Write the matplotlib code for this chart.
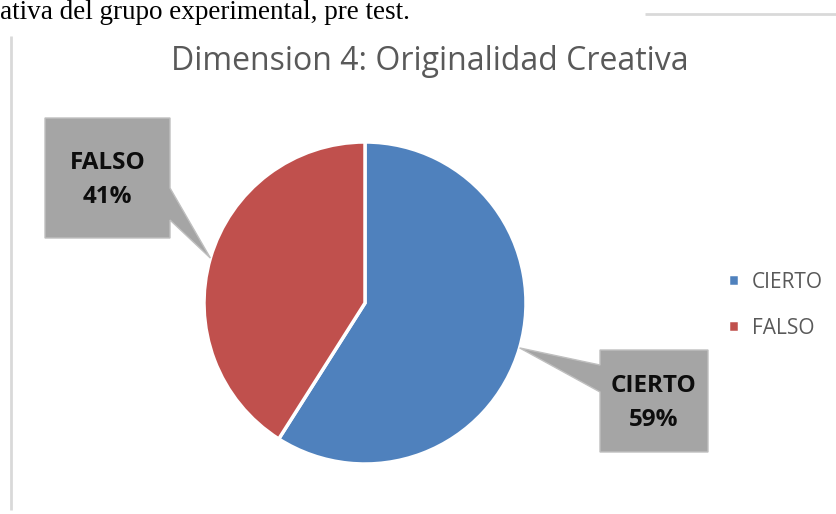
import matplotlib.pyplot as plt
from matplotlib.patches import Polygon
import numpy as np

# data
labels = ["CIERTO", "FALSO"]
values = [59, 41]
colors = ["#4F81BD", "#C0504D"]
title = "Dimension 4: Originalidad Creativa"
caption = "ativa del grupo experimental, pre test."

W, H = 837, 514


def Y(y):
    # page pixels (top down) -> data coords (bottom up)
    return H - y


fig = plt.figure(figsize=(W / 100, H / 100), dpi=100)
ax = fig.add_axes([0, 0, 1, 1])

cx, cy, r = 365, 303, 161
wedges, _ = ax.pie(values, colors=colors, startangle=90, counterclock=False,
                   center=(cx, Y(cy)), radius=r,
                   wedgeprops=dict(edgecolor="white", linewidth=2.5))

ax.set_xlim(0, W)
ax.set_ylim(0, H)
ax.set_aspect("equal")
ax.axis("off")

# page decorations
ax.text(0, Y(19), caption, fontsize=19.5, family="Liberation Serif",
        color="black", va="baseline", ha="left")
ax.plot([11, 11], [Y(36), Y(510)], color="#D9D9D9", lw=2, solid_capstyle="butt")
ax.plot([645, W], [Y(14), Y(14)], color="#D9D9D9", lw=2, solid_capstyle="butt")

ax.text(430, Y(61), title, fontsize=23, family="Open Sans", color="#595959",
        ha="center", va="center")

# callouts: box (left, top, right, bottom) and which side the tail leaves from
boxes = [
    (600, 350, 708, 452, "left", 365, 392),
    (45, 118, 170, 238, "right", 188, 220),
]
for w, v, lab, (x0, y0, x1, y1, side, t0, t1) in zip(wedges, values, labels, boxes):
    mid = np.deg2rad((w.theta1 + w.theta2) / 2)
    tx = cx + r * np.cos(mid)
    ty = Y(cy) + r * np.sin(mid)
    if side == "left":
        pts = [(x0, Y(y0)), (x1, Y(y0)), (x1, Y(y1)), (x0, Y(y1)),
               (x0, Y(t1)), (tx, ty), (x0, Y(t0))]
    else:
        pts = [(x0, Y(y0)), (x1, Y(y0)), (x1, Y(t0)), (tx, ty),
               (x1, Y(t1)), (x1, Y(y1)), (x0, Y(y1))]
    ax.add_patch(Polygon(pts, closed=True, facecolor="#A5A5A5",
                         edgecolor="#BFBFBF", lw=1, zorder=3))
    ax.text((x0 + x1) / 2, Y((y0 + y1) / 2 + 2), f"{lab}\n{v}%", fontsize=17.5,
            family="Open Sans", weight="bold", color="#0D0D0D",
            ha="center", va="center", linespacing=1.55, zorder=4)

ax.legend(wedges, labels, loc="center left", bbox_to_anchor=(709 / W, 1 - 305 / H),
          frameon=False, handlelength=0.55, handleheight=0.55, handletextpad=0.6,
          labelspacing=1.2, labelcolor="#595959",
          prop=dict(family="Open Sans", size=15))

plt.savefig("out.png", dpi=100)
